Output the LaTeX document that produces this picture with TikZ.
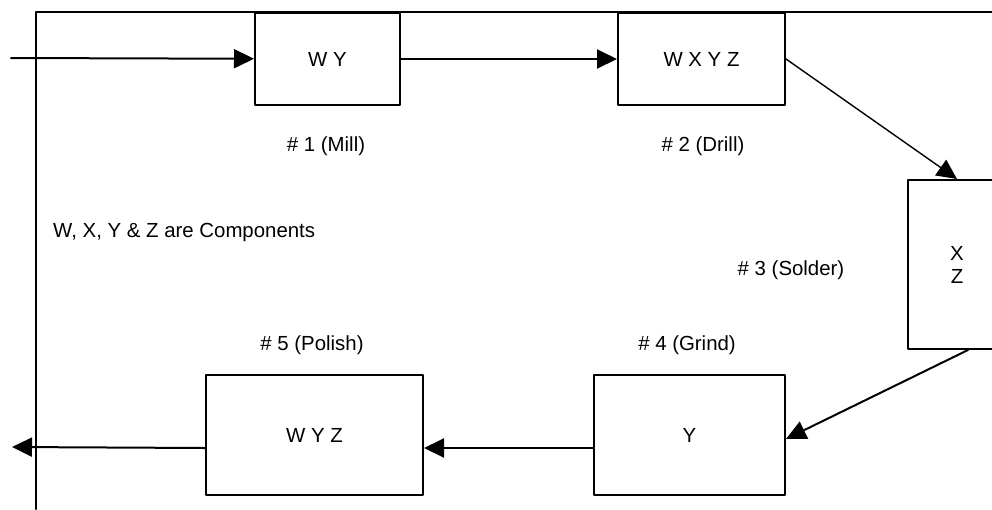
\documentclass[tikz,border=0pt]{standalone}
\usepackage{fontspec}
\setmainfont{Liberation Sans}
\usetikzlibrary{arrows.meta}
\begin{document}
\begin{tikzpicture}[x=1pt, y=-1pt, font=\fontsize{20.4}{23}\selectfont, line join=round, line cap=round, >={Triangle[length=20pt,width=19pt]},
	box/.style={draw, line width=2pt, inner sep=0pt, anchor=north west},
	flow/.style={->, line width=2pt}]
			\useasboundingbox (0,0) rectangle (992,509);
			\coordinate (in) at (11,58);
			\coordinate (out) at (12,447);
			\draw[line width=2pt] (36,509) -- (36,12) -- (992,12);
			\node[box, minimum width=145pt, minimum height=92pt] (mill) at (254,12) {W Y};
			\node[box, minimum width=167pt, minimum height=92pt] (drill) at (617,12) {W X Y Z};
			\node[box, minimum width=98pt, minimum height=169pt, align=center] (solder) at (907,179) {X\\Z};
			\node[box, minimum width=191pt, minimum height=120pt] (grind) at (593,374) {Y};
			\node[box, minimum width=217pt, minimum height=120pt] (polish) at (205,374) {W Y Z};
			\draw[flow] (in) -- (mill);
			\draw[flow] (mill) -- (drill);
			\draw[flow, line width=1.4pt] (drill.east) -- (solder.north);
			\draw[flow] ([xshift=11pt]solder.south) -- ([yshift=-4pt]grind.east);
			\draw[flow] ([yshift=-13pt]grind.west) -- ([yshift=-13pt]polish.east);
			\draw[flow] ([yshift=-13pt]polish.west) -- (out);
			\node (millLabel) at (326,146) {\# 1 (Mill)};
			\node (drillLabel) at (703,146) {\# 2 (Drill)};
			\node (solderLabel) at (791,270) {\# 3 (Solder)};
			\node (grindLabel) at (687,345) {\# 4 (Grind)};
			\node (polishLabel) at (312,345) {\# 5 (Polish)};
			\node[anchor=west, inner sep=0pt] (note) at (53,232) {W, X, Y \& Z are Components};
		\end{tikzpicture}
\end{document}
